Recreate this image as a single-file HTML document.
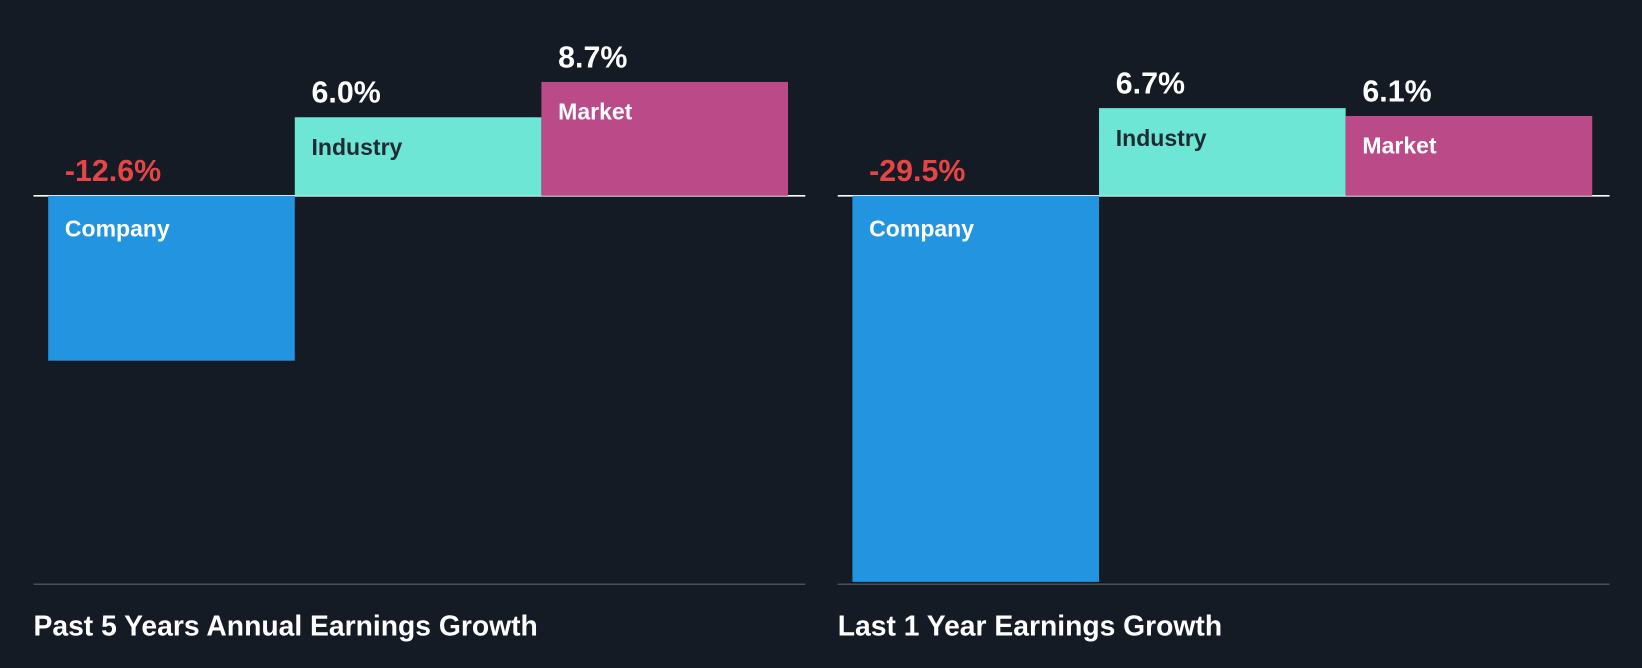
<!DOCTYPE html>
<html><head><meta charset="utf-8"><style>
html,body{margin:0;padding:0;background:#151b24;}
svg{display:block;font-family:"Liberation Sans",sans-serif;}
</style></head><body>
<svg id="chart" width="1642" height="668" viewBox="0 0 1568 638" preserveAspectRatio="none" xmlns="http://www.w3.org/2000/svg">
<rect width="1568" height="638" fill="#151b24"/>
</svg>
<script>
const categories = ["Company","Industry","Market"];
const panelTitles = ["Past 5 Years Annual Earnings Growth","Last 1 Year Earnings Growth"];
const past5Values = [-12.6, 6.0, 8.7];
const last1Values = [-29.5, 6.7, 6.1];
const valueLabels5 = ["-12.6%","6.0%","8.7%"];
const valueLabels1 = ["-29.5%","6.7%","6.1%"];

const NS = "http://www.w3.org/2000/svg";
const svg = document.getElementById("chart");
const colors = ["#2394df","#6ee6d6","#bb4a88"];
const labelColors = ["#ffffff","#1f2a33","#ffffff"];
const baseY = 187, pxPerPct = 12.5;
function yScale(v){ return baseY - v*pxPerPct; }
function el(tag, attrs){ const e=document.createElementNS(NS,tag); for(const k in attrs) e.setAttribute(k,attrs[k]); svg.appendChild(e); return e; }

function panel(x0, values, labels, title, key){
  const axis = el("line",{x1:x0,x2:x0+737,y1:baseY,y2:baseY,stroke:"#ffffff","stroke-width":1.5});
  
  
  const bottom = el("line",{x1:x0,x2:x0+737,y1:558,y2:558,stroke:"#4a5059","stroke-width":1.5});
  
  
  const bw = 235.5;
  values.forEach((v,i)=>{
    const bx = x0+14+i*bw;
    const top = Math.min(yScale(v), baseY), bot = Math.max(yScale(v), baseY);
    const r = el("rect",{x:bx,y:top,width:bw,height:bot-top,fill:colors[i]});
    
    
    const neg = v<0;
    const lt = el("text",{x:bx+16,y:neg?baseY+39:top+36,fill:labelColors[i],"font-size":22,"font-weight":"bold"});
    lt.textContent = categories[i];
    
    
    const vt = el("text",{x:bx+16,y:neg?baseY-14:top-14,fill:neg?"#e64545":"#ffffff","font-size":29,"font-weight":"bold"});
    vt.textContent = labels[i];
    
    
  });
  const t = el("text",{x:x0,y:607,fill:"#ffffff","font-size":27,"font-weight":"bold"});
  t.textContent = title;
  
  
}
panel(32, past5Values, valueLabels5, panelTitles[0], "past-5-years");
panel(800, last1Values, valueLabels1, panelTitles[1], "last-1-year");
</script>
</body></html>
